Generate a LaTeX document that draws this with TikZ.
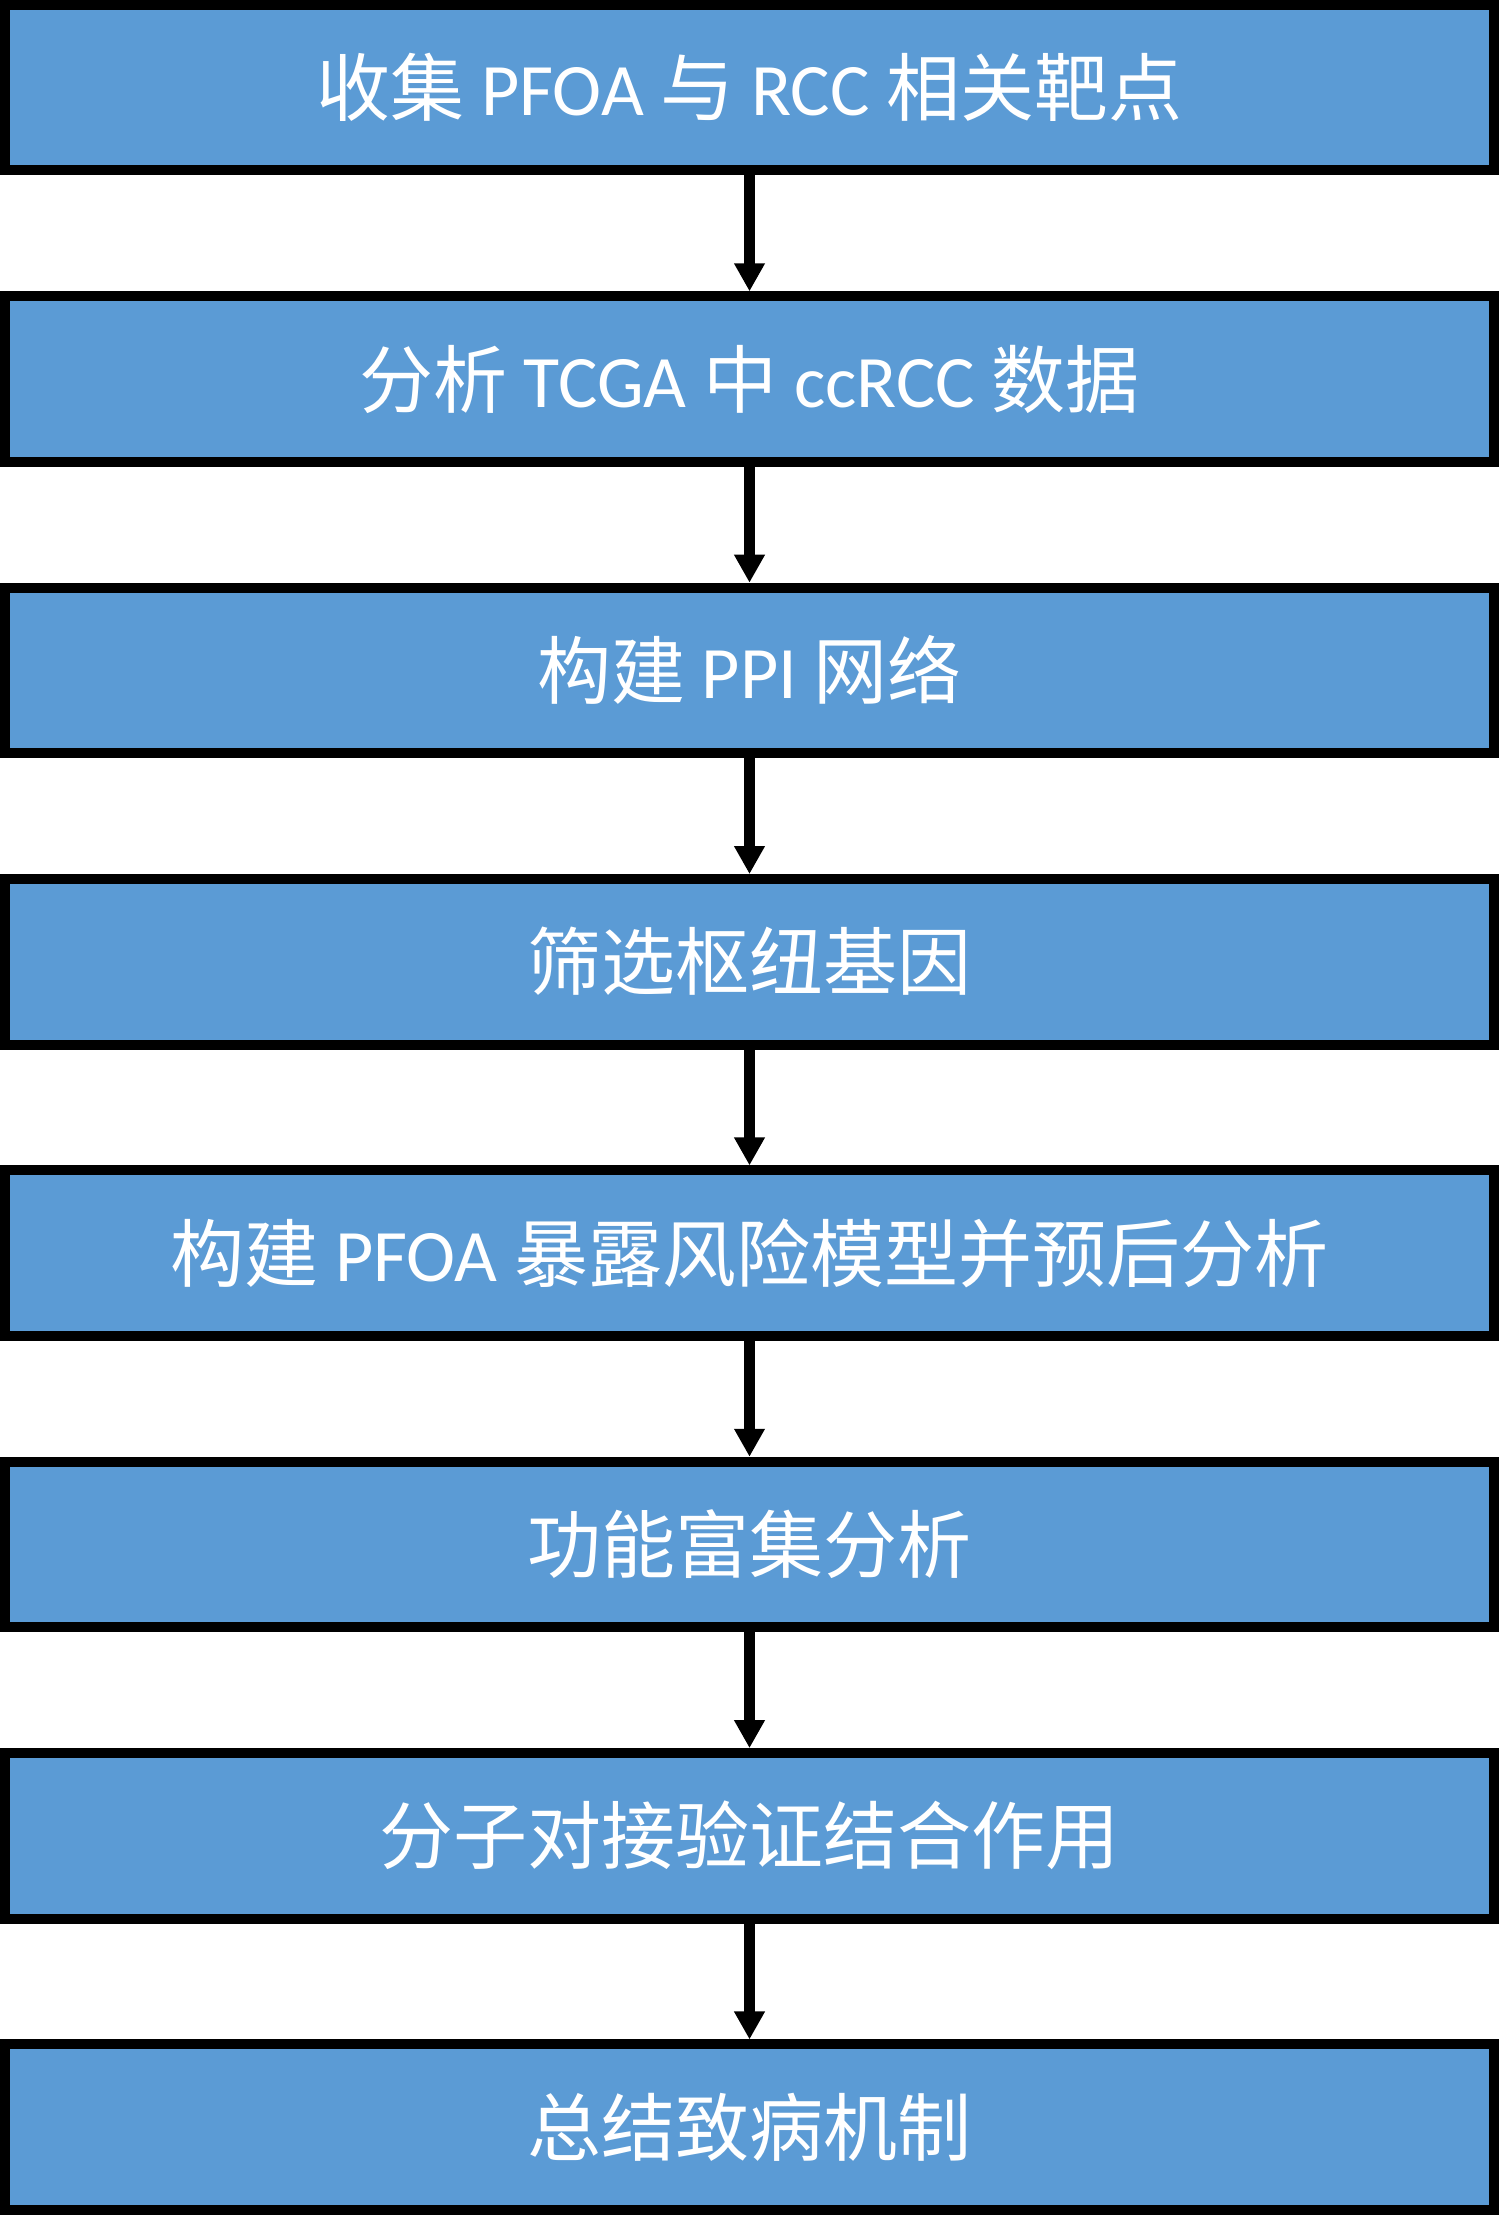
\documentclass[tikz,border=0pt]{standalone}
\usepackage{fontspec}
\setmainfont{Carlito}
\newfontfamily\cjk{Noto Sans CJK SC}
\usepackage{tikz}
\usetikzlibrary{arrows.meta}

\definecolor{boxblue}{HTML}{5B9BD5}

\tikzset{
    stepbox/.style = {rectangle, draw = black, line width = 5pt, fill = boxblue, text = white,
        minimum width = 744.5pt, minimum height = 82.75pt, inner sep = 0pt,
        font = \fontsize{37pt}{44pt}\selectfont, text height = 32.5pt, text depth = 4.5pt},
    flowarrow/.style = {line width = 5.5pt, -{Triangle[length = 14pt, width = 14.5pt]}}
}

\begin{document}
\begin{tikzpicture}[x = 0.5pt, y = 0.5pt]
    \useasboundingbox (0, 0) rectangle (1499, -2215);

    \node (collect) [stepbox] at (749.5, -87.75) {{\cjk 收集} PFOA {\cjk 与} RCC {\cjk 相关靶点}};
    \node (tcga) [stepbox] at (749.5, -379.1) {{\cjk 分析} TCGA {\cjk 中} ccRCC {\cjk 数据}};
    \node (ppi) [stepbox] at (749.5, -670.45) {{\cjk 构建} PPI {\cjk 网络}};
    \node (hub) [stepbox] at (749.5, -961.8) {{\cjk 筛选枢纽基因}};
    \node (model) [stepbox] at (749.5, -1253.15) {{\cjk 构建} PFOA {\cjk 暴露风险模型并预后分析}};
    \node (enrich) [stepbox] at (749.5, -1544.5) {{\cjk 功能富集分析}};
    \node (docking) [stepbox] at (749.5, -1835.85) {{\cjk 分子对接验证结合作用}};
    \node (summary) [stepbox] at (749.5, -2127.2) {{\cjk 总结致病机制}};

    \foreach \a/\b in {collect/tcga, tcga/ppi, ppi/hub, hub/model, model/enrich, enrich/docking, docking/summary}
    {
        \draw [flowarrow] (\a) -- (\b);
    }
\end{tikzpicture}
\end{document}
